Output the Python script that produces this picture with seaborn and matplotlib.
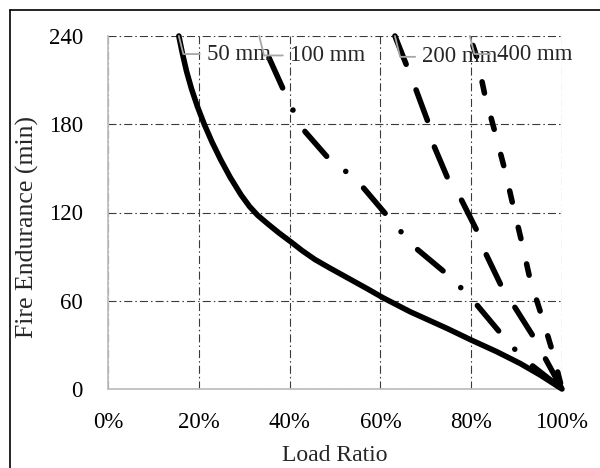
import matplotlib
matplotlib.use("Agg")
import matplotlib.pyplot as plt
import seaborn as sns
import pandas as pd
from matplotlib.ticker import PercentFormatter, FixedLocator
from matplotlib.lines import Line2D

# ---- data (load ratio as fraction, fire endurance in minutes) ----
x_50 = [0.156, 0.164, 0.173, 0.184, 0.197, 0.212, 0.229, 0.248, 0.269, 0.293, 0.312,
        0.330, 0.353, 0.377, 0.403, 0.428, 0.456, 0.490, 0.531, 0.572, 0.606, 0.665,
        0.746, 0.800, 0.856, 0.907, 0.952, 1.000]
y_50 = [240, 228, 216, 204, 192, 180, 168, 156, 144, 132, 124,
        118, 112, 106, 100, 94, 88, 82, 75, 68, 62, 52.6,
        41.3, 33.3, 25.4, 17.5, 9.5, 0]

x_100 = [0.333, 0.352, 0.390, 0.410, 0.434, 0.489, 0.528, 0.562, 0.617, 0.648, 0.681,
         0.747, 0.780, 0.813, 0.868, 0.899, 0.934, 1.000]
y_100 = [240, 227, 201, 188, 175, 155.6, 147, 137, 117, 106, 95,
         78, 68, 57, 36.7, 26, 16, 0]

x_200 = [0.632, 0.659, 0.676, 0.706, 0.717, 0.750, 0.775, 0.812, 0.830, 0.867, 0.893,
         0.937, 0.959, 1.000]
y_200 = [240, 219, 205.5, 180.6, 166, 142, 130.7, 108, 93.4, 69.6, 57.1,
         35.6, 23.1, 0]

x_400 = [0.797, 0.813, 0.830, 0.852, 0.874, 0.892, 0.912, 0.930, 0.956, 0.980, 1.000]
y_400 = [240, 225, 200, 175, 149, 125, 99, 74, 49, 24.5, 0]

series_names = ["50 mm", "100 mm", "200 mm", "400 mm"]
x_ticks = [0, 0.2, 0.4, 0.6, 0.8, 1.0]
y_ticks = [0, 60, 120, 180, 240]
x_title = "Load Ratio"
y_title = "Fire Endurance (min)"

series_x = [x_50, x_100, x_200, x_400]
series_y = [y_50, y_100, y_200, y_400]

# ---- styling ----
sns.set_style("white")
plt.rcParams["font.family"] = ["Liberation Serif", "DejaVu Serif"]
plt.rcParams["lines.scale_dashes"] = False
FS = 16.5

# dash patterns in points: (offset, sequence)
line_styles = {
    "50 mm": "-",
    "100 mm": (41.8, (23.8, 17.6, 0.01, 17.6)),
    "200 mm": (1.5, (23.4, 19.8)),
    "400 mm": (19.8, (8.3, 18.7)),
}
label_offsets = {  # text offset in points from the first point of each curve
    "50 mm": (20, -13),
    "100 mm": (22, -14),
    "200 mm": (19.5, -15),
    "400 mm": (19.5, -13),
}

fig = plt.figure(figsize=(6, 4.68), dpi=100)
ax = fig.add_axes([108 / 600, 1 - 389 / 468, 454 / 600, 353 / 468])

frames = []
for name, xs, ys in zip(series_names, series_x, series_y):
    frames.append(pd.DataFrame({"ratio": xs, "time": ys, "series": name}))
df = pd.concat(frames, ignore_index=True)

for name in series_names:
    sub = df[df["series"] == name]
    sns.lineplot(data=sub, x="ratio", y="time", ax=ax, sort=False, estimator=None,
                 color="black", lw=4.0, legend=False)
    ln = ax.lines[-1]
    ln.set_linestyle(line_styles[name])
    ln.set_dash_capstyle("round")
    ln.set_solid_capstyle("round")
    ln.set_solid_joinstyle("round")
    ln.set_dash_joinstyle("round")
    ln.set_clip_on(False)
    ln.set_zorder(3)

ax.set_xlim(0, 1.0)
ax.set_ylim(0, 240)
ax.xaxis.set_major_locator(FixedLocator(x_ticks))
ax.yaxis.set_major_locator(FixedLocator(y_ticks))
ax.xaxis.set_major_formatter(PercentFormatter(1.0, decimals=0))

ax.set_axisbelow(True)
ax.grid(True, color="#3a3a3a", lw=0.8, linestyle=(0, (5.8, 2.2, 1.1, 2.2)))

for s in ["top", "right"]:
    ax.spines[s].set_visible(False)
for s in ["left", "bottom"]:
    ax.spines[s].set_color("#bfbfbf")
    ax.spines[s].set_linewidth(1.3)

ax.tick_params(axis="both", length=0, labelsize=FS, colors="black")
ax.tick_params(axis="y", pad=18)
ax.tick_params(axis="x", pad=16.5)

ax.set_xlabel(x_title, fontsize=17)
ax.set_ylabel(y_title, fontsize=18.5)
ax.xaxis.set_label_coords(0.5, -0.158)
ax.yaxis.set_label_coords(-0.152, 0.459)

# data labels with leader lines
for name, xs, ys in zip(series_names, series_x, series_y):
    dx, dy = label_offsets[name]
    ax.annotate(name, xy=(xs[0], ys[0]), xytext=(dx, dy), textcoords="offset points",
                ha="left", va="center", fontsize=FS, zorder=4,
                bbox=dict(boxstyle="square,pad=0.3", fc="none", ec="none"),
                arrowprops=dict(arrowstyle="-", color="#a6a6a6", lw=1.3,
                                shrinkA=0, shrinkB=0,
                                connectionstyle="angle,angleA=0,angleB=104,rad=0"),
                annotation_clip=False)

# outer chart frame (top and left edges visible)
fig.add_artist(Line2D([10 / 600, 1.0], [1 - 10 / 468, 1 - 10 / 468], color="black",
                      lw=1.2, transform=fig.transFigure))
fig.add_artist(Line2D([10 / 600, 10 / 600], [0, 1 - 10 / 468], color="black",
                      lw=1.2, transform=fig.transFigure))

fig.savefig("out.png", dpi=100)
